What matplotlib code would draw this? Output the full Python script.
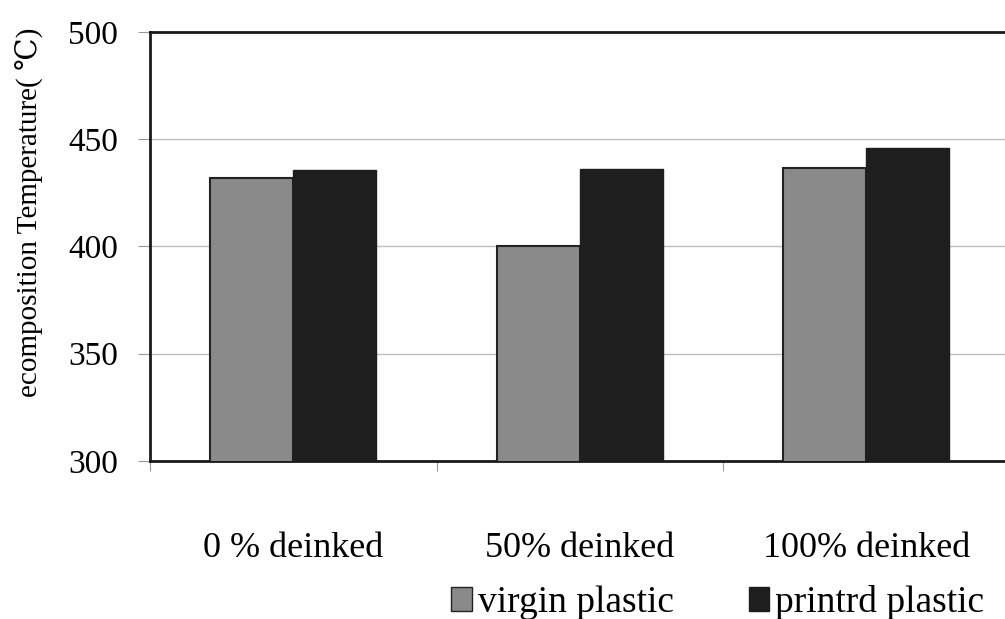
import matplotlib
matplotlib.use("Agg")
import numpy as np
from matplotlib import pyplot as plt
from matplotlib.patches import Patch

# data
categories = ["0 % deinked", "50% deinked", "100% deinked"]
virgin = [432, 400, 436.5]
printed = [435.5, 436, 446]
series_names = ["virgin plastic", "printrd plastic"]
y_ticks = [300, 350, 400, 450, 500]

plt.rcParams["font.family"] = ["Liberation Serif", "DejaVu Serif"]

fig = plt.figure(figsize=(10.05, 6.19), dpi=100)
ax = fig.add_axes([0.1493, 0.2553, 0.8552, 0.693])

x = np.arange(len(categories))
w = 0.29
ax.bar(x - w / 2, virgin, w, color="#8a8a8a", edgecolor="#222222",
       linewidth=1.5, zorder=3)
ax.bar(x + w / 2, printed, w, color="#1e1e1e", edgecolor="#1e1e1e",
       linewidth=1.0, zorder=3)

ax.set_ylim(300, 500)
ax.set_xlim(-0.5, 2.5)
ax.set_yticks(y_ticks)
ax.tick_params(axis="y", labelsize=24, length=9, width=0.8, color="#999999", pad=14)

# group separators as major ticks, labels on minor ticks
ax.set_xticks([-0.5, 0.5, 1.5, 2.5])
ax.set_xticklabels([])
ax.tick_params(axis="x", which="major", length=7, width=0.8, color="#999999")
ax.set_xticks(x, minor=True)
ax.set_xticklabels(categories, minor=True)
ax.tick_params(axis="x", which="minor", length=0, labelsize=26, pad=51)

ax.yaxis.grid(True, color="#bdbdbd", linewidth=1.0, zorder=0)
ax.set_axisbelow(True)

for s in ["left", "top", "bottom"]:
    ax.spines[s].set_linewidth(2.0)
    ax.spines[s].set_color("#1a1a1a")
ax.spines["right"].set_visible(False)

fig.text(0.030, (619 - 212) / 619, "ecomposition Temperature( \u2103)",
         rotation=90, ha="center", va="center", fontsize=21)

handles = [Patch(facecolor="#8a8a8a", edgecolor="#222222"),
           Patch(facecolor="#1e1e1e", edgecolor="#1e1e1e")]
fig.legend(handles, series_names, loc="center", bbox_to_anchor=(0.714, 0.026),
           ncol=2, frameon=False, fontsize=27, handlelength=0.55, handleheight=0.6,
           handletextpad=0.15, columnspacing=2.0)

fig.savefig("out.png", dpi=100)
